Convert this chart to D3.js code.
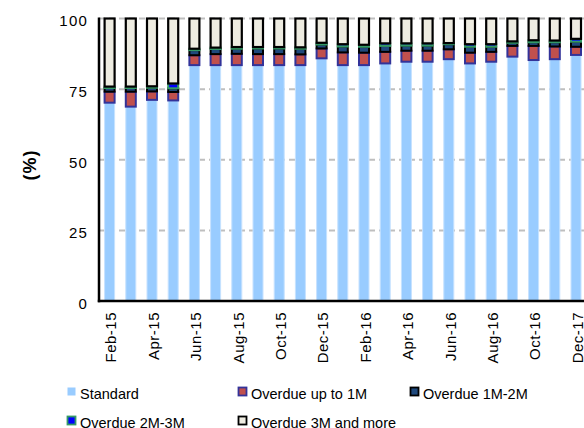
<!DOCTYPE html>
<html>
<head>
<meta charset="utf-8">
<script src="https://cdn.jsdelivr.net/npm/d3@7"></script>
<style>
  html, body { margin: 0; padding: 0; background: #fff; }
  svg { display: block; font-family: "Liberation Sans", Arial, sans-serif; }
</style>
</head>
<body>
<svg id="chart" width="584" height="428"></svg>
<script>
// ---- data ----
const months = ["Feb-15","Mar-15","Apr-15","May-15","Jun-15","Jul-15","Aug-15","Sep-15","Oct-15","Nov-15","Dec-15",
  "Jan-16","Feb-16","Mar-16","Apr-16","May-16","Jun-16","Jul-16","Aug-16","Sep-16","Oct-16","Nov-16","Dec-16"];
// tick labels shown every other month (original chart labels the last one "Dec-17")
const tickLabels = ["Feb-15","Apr-15","Jun-15","Aug-15","Oct-15","Dec-15","Feb-16","Apr-16","Jun-16","Aug-16","Oct-16","Dec-17"];
const standard   = [70.2,68.8,71.2,71.0,83.5,83.5,83.5,83.5,83.5,83.5,85.9,83.5,83.5,84.1,84.7,84.7,85.6,84.1,84.7,86.5,85.3,85.6,87.1];
const upTo1M     = [3.9,5.3,3.0,3.0,3.5,3.9,4.0,3.9,3.9,3.8,3.5,4.5,4.4,4.1,3.9,3.9,3.5,3.8,3.5,3.8,5.0,4.5,2.9];
const m1to2      = [1.3,1.3,1.3,1.3,1.8,1.8,1.8,2.0,2.0,2.0,1.4,2.1,2.1,2.1,1.8,1.8,1.8,2.1,1.8,1.1,1.3,1.5,1.8];
const m2to3      = [0.5,0.5,0.5,1.7,0.5,0.5,0.6,0.5,0.5,0.5,0.6,0.8,0.7,0.9,0.8,0.8,0.4,0.9,0.9,0.5,0.7,0.6,1.0];
const m3plus     = [24.1,24.1,24.0,23.0,10.7,10.3,10.1,10.1,10.1,10.2,8.6,9.1,9.3,8.8,8.8,8.8,8.7,9.1,9.1,8.1,7.7,7.8,7.2];
const yTicks = [0,25,50,75,100];

const seriesKeys  = ["Standard","Overdue up to 1M","Overdue 1M-2M","Overdue 2M-3M","Overdue 3M and more"];
const seriesData  = [standard, upTo1M, m1to2, m2to3, m3plus];
const fills   = ["#99CCFF","#C0504D","#1F497D","#0000FF","#EEECE1"];
const strokes = ["#C6E2FF","#333399","#000000","#339966","#000000"];
const strokeW = [1, 2, 2, 2, 2.2];

const rows = months.map((m, i) => {
  const r = { month: m };
  seriesKeys.forEach((k, j) => r[k] = seriesData[j][i]);
  return r;
});

const svg = d3.select("#chart");

const x = d3.scaleBand().domain(months).range([99, 586.6]).paddingInner(0.528).paddingOuter(0.264);
const y = d3.scaleLinear().domain([0, 100]).range([301, 18.5]);

// gridlines
svg.append("g").selectAll("line").data(yTicks.filter(t => t > 0)).join("line")
  .attr("x1", 99).attr("x2", 584)
  .attr("y1", d => y(d)).attr("y2", d => y(d))
  .attr("stroke", "#BFBFBF").attr("stroke-width", 2).attr("stroke-dasharray", "6,4");

// stacked bars
const stack = d3.stack().keys(seriesKeys)(rows);
svg.append("g").selectAll("g").data(stack).join("g")
  .attr("fill", (d, i) => fills[i])
  .attr("stroke", (d, i) => strokes[i])
  .attr("stroke-width", (d, i) => strokeW[i])
  .selectAll("rect").data(d => d).join("rect")
  .attr("x", d => x(d.data.month))
  .attr("width", x.bandwidth())
  .attr("y", d => y(d[1]))
  .attr("height", d => Math.max(0.01, y(d[0]) - y(d[1])));

// axes lines
svg.append("line").attr("x1", 99).attr("x2", 99).attr("y1", 17.5).attr("y2", 302.2)
  .attr("stroke", "#000").attr("stroke-width", 2.5);
svg.append("line").attr("x1", 97.8).attr("x2", 584).attr("y1", 301).attr("y2", 301)
  .attr("stroke", "#000").attr("stroke-width", 2.5);

// y tick labels
svg.append("g").selectAll("text").data(yTicks).join("text")
  .attr("x", 88).attr("y", d => y(d) + 2.5).attr("dy", "0.35em")
  .attr("text-anchor", "end").attr("font-size", 15).attr("letter-spacing", 1.2).attr("fill", "#000")
  .text(d => d);

// y title
svg.append("text")
  .attr("transform", "translate(30,165) rotate(-90)")
  .attr("text-anchor", "middle").attr("dy", "0.35em")
  .attr("font-size", 18).attr("font-weight", "bold").attr("letter-spacing", 1)
  .text("(%)");

// x tick labels (every other month)
const labelMonths = months.filter((m, i) => i % 2 === 0);
svg.append("g").selectAll("text").data(labelMonths).join("text")
  .attr("transform", d => `translate(${x(d) + x.bandwidth() / 2 + 1.5},312) rotate(-90)`)
  .attr("text-anchor", "end").attr("dy", "0.35em")
  .attr("font-size", 15).attr("letter-spacing", 0.5).attr("fill", "#000")
  .text((d, i) => tickLabels[i]);

// legend
const legendPos = [
  { x: 67, y: 387 }, { x: 238, y: 387 }, { x: 410, y: 387 },
  { x: 67, y: 416 }, { x: 238, y: 416 }
];
const lg = svg.append("g").selectAll("g").data(seriesKeys).join("g")
  .attr("transform", (d, i) => `translate(${legendPos[i].x},${legendPos[i].y})`);
lg.append("rect")
  .attr("x", 0.5).attr("y", 0.5).attr("width", 8).attr("height", 8)
  .attr("fill", (d, i) => fills[i])
  .attr("stroke", (d, i) => i === 0 ? "none" : strokes[i])
  .attr("stroke-width", 1.8);
lg.append("text")
  .attr("x", 13).attr("y", 12)
  .attr("font-size", 14.5).attr("fill", "#000")
  .text(d => d);
</script>
</body>
</html>
